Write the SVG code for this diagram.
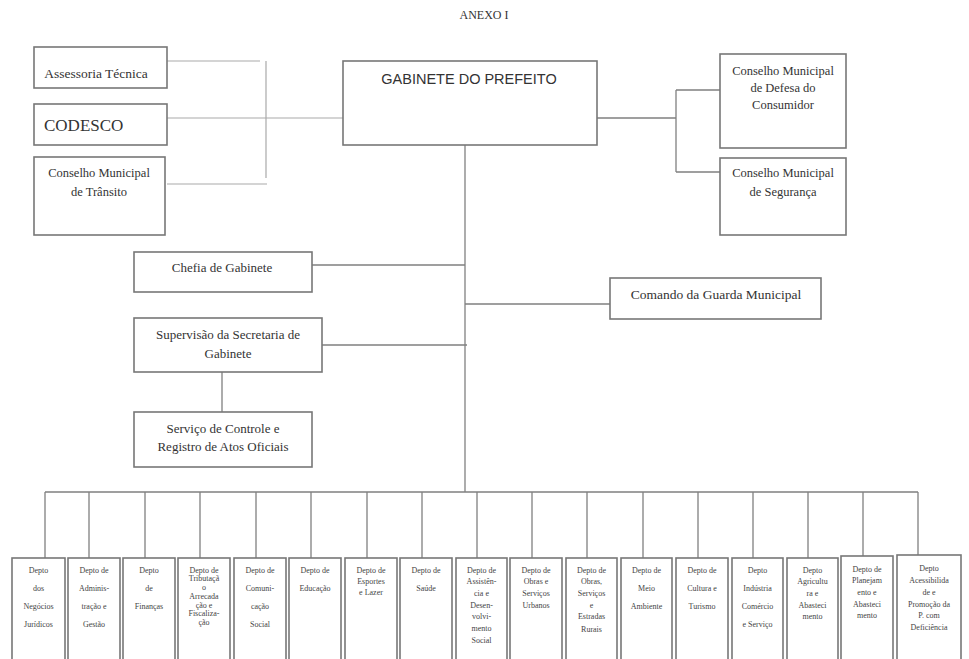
<svg xmlns="http://www.w3.org/2000/svg" width="969" height="659" viewBox="0 0 969 659">
<style>
.bg{fill:#fff}
.box{fill:#fff;stroke:#777;stroke-width:1.6}
.ln{stroke:#808080;stroke-width:1.3;fill:none}
.lt{stroke:#aaa;stroke-width:1.2;fill:none}
.t{font-family:"Liberation Serif","Times New Roman",serif;fill:#333;text-anchor:middle}
.s{font-family:"Liberation Sans",Arial,sans-serif;fill:#333;text-anchor:middle}
.m{font-size:13px}
.d{font-size:8px;fill:#444}
</style>
<rect class="bg" x="0" y="0" width="969" height="659"/>
<text class="t" x="484" y="19" font-size="12">ANEXO I</text>
<g id="connectors">
<path class="lt" d="M167 61H260M266 61V178M167 118H343M167 184H267"/>
<path class="ln" d="M597 118H676M676 90V172M676 90H720M676 172H720"/>
<path class="ln" d="M465 145V492"/>
<path class="ln" d="M312 265H465M465 304H610M322 345H467M222 372V412"/>
<path class="ln" d="M45 492H918M45 492V558M89 492V558M145 492V558M200 492V558M256 492V558M311 492V558M367 492V558M422 492V558M477 492V558M532 492V558M587 492V558M643 492V558M698 492V558M753 492V558M808 492V558M863 492V556M918 492V555"/>
</g>
<g id="gabinete"><rect class="box" x="343" y="61" width="254" height="84"/><text class="s" x="469" y="84" font-size="14.5">GABINETE DO PREFEITO</text></g>
<g id="assessoria"><rect class="box" x="34" y="47" width="133" height="41"/><text class="t" x="96" y="78" font-size="13.5">Assessoria Técnica</text></g>
<g id="codesco"><rect class="box" x="34" y="104" width="133" height="41"/><text class="t" x="44" y="131" font-size="17" text-anchor="start" style="text-anchor:start">CODESCO</text></g>
<g id="transito"><rect class="box" x="34" y="157" width="131" height="78"/><text class="t" x="99" y="177" font-size="12.5">Conselho Municipal</text><text class="t" x="99" y="196" font-size="12.5">de Trânsito</text></g>
<g id="defesa"><rect class="box" x="720" y="54" width="126" height="94"/><text class="t" x="783" y="75" font-size="12.5">Conselho Municipal</text><text class="t" x="783" y="92" font-size="12.5">de Defesa do</text><text class="t" x="783" y="109" font-size="12.5">Consumidor</text></g>
<g id="seguranca"><rect class="box" x="720" y="158" width="126" height="77"/><text class="t" x="783" y="177" font-size="12.5">Conselho Municipal</text><text class="t" x="783" y="196" font-size="12.5">de Segurança</text></g>
<g id="chefia"><rect class="box" x="134" y="252" width="178" height="40"/><text class="t m" x="222" y="272">Chefia de Gabinete</text></g>
<g id="comando"><rect class="box" x="610" y="278" width="211" height="41"/><text class="t" x="716" y="299" font-size="13.5">Comando da Guarda Municipal</text></g>
<g id="supervisao"><rect class="box" x="134" y="318" width="188" height="54"/><text class="t m" x="228" y="339">Supervisão da Secretaria de</text><text class="t m" x="228" y="358">Gabinete</text></g>
<g id="servico"><rect class="box" x="134" y="412" width="178" height="55"/><text class="t m" x="223" y="433">Serviço de Controle e</text><text class="t m" x="223" y="451">Registro de Atos Oficiais</text></g>
<g id="d1"><rect class="box" x="12" y="558" width="53" height="110"/><text class="t d" x="38.5"><tspan x="38.5" y="573">Depto</tspan><tspan x="38.5" y="591">dos</tspan><tspan x="38.5" y="609">Negócios</tspan><tspan x="38.5" y="627">Jurídicos</tspan></text></g>
<g id="d2"><rect class="box" x="68" y="558" width="52" height="110"/><text class="t d"><tspan x="94" y="573">Depto de</tspan><tspan x="94" y="591">Adminis-</tspan><tspan x="94" y="609">tração e</tspan><tspan x="94" y="627">Gestão</tspan></text></g>
<g id="d3"><rect class="box" x="123" y="558" width="52" height="110"/><text class="t d"><tspan x="149" y="573">Depto</tspan><tspan x="149" y="591">de</tspan><tspan x="149" y="609">Finanças</tspan></text></g>
<g id="d4"><rect class="box" x="178" y="558" width="52" height="110"/><text class="t d"><tspan x="204" y="573">Depto de</tspan><tspan x="204" y="581">Tributaçã</tspan><tspan x="204" y="590">o</tspan><tspan x="204" y="599">Arrecada</tspan><tspan x="204" y="608">ção e</tspan><tspan x="204" y="616">Fiscaliza-</tspan><tspan x="204" y="625">ção</tspan></text></g>
<g id="d5"><rect class="box" x="234" y="558" width="52" height="110"/><text class="t d"><tspan x="260" y="573">Depto de</tspan><tspan x="260" y="591">Comuni-</tspan><tspan x="260" y="609">cação</tspan><tspan x="260" y="627">Social</tspan></text></g>
<g id="d6"><rect class="box" x="289" y="558" width="52" height="110"/><text class="t d"><tspan x="315" y="573">Depto de</tspan><tspan x="315" y="591">Educação</tspan></text></g>
<g id="d7"><rect class="box" x="345" y="558" width="52" height="110"/><text class="t d"><tspan x="371" y="573">Depto de</tspan><tspan x="371" y="584">Esportes</tspan><tspan x="371" y="595">e Lazer</tspan></text></g>
<g id="d8"><rect class="box" x="400" y="558" width="52" height="110"/><text class="t d"><tspan x="426" y="573">Depto de</tspan><tspan x="426" y="591">Saúde</tspan></text></g>
<g id="d9"><rect class="box" x="456" y="558" width="51" height="110"/><text class="t d"><tspan x="481.5" y="573">Depto de</tspan><tspan x="481.5" y="584">Assistên-</tspan><tspan x="481.5" y="596">cia e</tspan><tspan x="481.5" y="608">Desen-</tspan><tspan x="481.5" y="619">volvi-</tspan><tspan x="481.5" y="631">mento</tspan><tspan x="481.5" y="643">Social</tspan></text></g>
<g id="d10"><rect class="box" x="510" y="558" width="52" height="110"/><text class="t d"><tspan x="536" y="573">Depto de</tspan><tspan x="536" y="584">Obras e</tspan><tspan x="536" y="596">Serviços</tspan><tspan x="536" y="608">Urbanos</tspan></text></g>
<g id="d11"><rect class="box" x="566" y="558" width="51" height="110"/><text class="t d"><tspan x="591.5" y="573">Depto de</tspan><tspan x="591.5" y="584">Obras,</tspan><tspan x="591.5" y="596">Serviços</tspan><tspan x="591.5" y="608">e</tspan><tspan x="591.5" y="619">Estradas</tspan><tspan x="591.5" y="632">Rurais</tspan></text></g>
<g id="d12"><rect class="box" x="621" y="558" width="51" height="110"/><text class="t d"><tspan x="646.5" y="573">Depto de</tspan><tspan x="646.5" y="591">Meio</tspan><tspan x="646.5" y="609">Ambiente</tspan></text></g>
<g id="d13"><rect class="box" x="676" y="558" width="52" height="110"/><text class="t d"><tspan x="702" y="573">Depto de</tspan><tspan x="702" y="591">Cultura e</tspan><tspan x="702" y="609">Turismo</tspan></text></g>
<g id="d14"><rect class="box" x="732" y="558" width="51" height="110"/><text class="t d"><tspan x="757.5" y="573">Depto</tspan><tspan x="757.5" y="591">Indústria</tspan><tspan x="757.5" y="609">Comércio</tspan><tspan x="757.5" y="627">e Serviço</tspan></text></g>
<g id="d15"><rect class="box" x="787" y="558" width="51" height="110"/><text class="t d"><tspan x="812.5" y="573">Depto</tspan><tspan x="812.5" y="584">Agricultu</tspan><tspan x="812.5" y="596">ra e</tspan><tspan x="812.5" y="608">Abasteci</tspan><tspan x="812.5" y="619">mento</tspan></text></g>
<g id="d16"><rect class="box" x="841" y="556" width="52" height="112"/><text class="t d"><tspan x="867" y="572">Depto de</tspan><tspan x="867" y="583">Planejam</tspan><tspan x="867" y="595">ento e</tspan><tspan x="867" y="607">Abasteci</tspan><tspan x="867" y="618">mento</tspan></text></g>
<g id="d17"><rect class="box" x="897" y="555" width="64" height="113"/><text class="t d"><tspan x="929" y="571">Depto</tspan><tspan x="929" y="583">Acessibilida</tspan><tspan x="929" y="595">de e</tspan><tspan x="929" y="607">Promoção da</tspan><tspan x="929" y="618">P. com</tspan><tspan x="929" y="630">Deficiência</tspan></text></g>
</svg>
